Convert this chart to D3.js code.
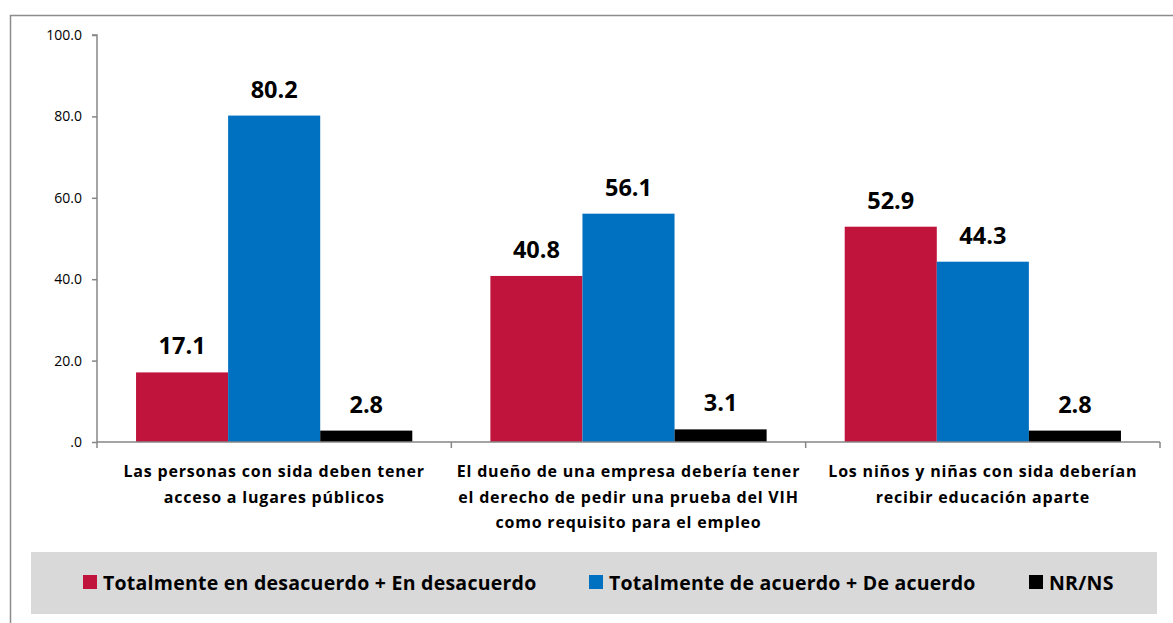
<!DOCTYPE html>
<html><head><meta charset="utf-8">
<script src="https://cdn.jsdelivr.net/npm/d3@7"></script>
<style>body{margin:0;background:#fff}svg{display:block}</style>
</head><body>
<script>
const categories = [
  ["Las personas con sida deben tener", "acceso a lugares públicos"],
  ["El dueño de una empresa debería tener", "el derecho de pedir una prueba del VIH", "como requisito para el empleo"],
  ["Los niños y niñas con sida deberían", "recibir educación aparte"]
];
const seriesNames = ["Totalmente en desacuerdo + En desacuerdo", "Totalmente de acuerdo + De acuerdo", "NR/NS"];
const desacuerdo = [17.1, 40.8, 52.9];
const acuerdo = [80.2, 56.1, 44.3];
const nrns = [2.8, 3.1, 2.8];
const yTicks = [0, 20, 40, 60, 80, 100];
const colors = ["#C0143C", "#0070C0", "#000000"];

const W = 1173, H = 623;
const svg = d3.select("body").append("svg").attr("width", W).attr("height", H);
const font = "'Open Sans', Lato, sans-serif";

// outer frame
svg.append("rect").attr("x", 10.5).attr("y", 15.5).attr("width", W).attr("height", H)
  .attr("fill", "none").attr("stroke", "#8c8c8c").attr("stroke-width", 1.5);

const pLeft = 97, pRight = 1160, pTop = 35, pBottom = 442;
const x0 = d3.scaleBand().domain(d3.range(categories.length)).range([pLeft, pRight]).paddingInner(0).paddingOuter(0);
const x1 = d3.scaleBand().domain(d3.range(3)).range([0, x0.bandwidth()]).paddingOuter(0.424).paddingInner(0);
const y = d3.scaleLinear().domain([0, 100]).range([pBottom, pTop]);

const series = [desacuerdo, acuerdo, nrns];

// bars
const g = svg.append("g");
series.forEach((vals, si) => {
  g.selectAll(null).data(vals).enter().append("rect")
    .attr("x", (d, i) => x0(i) + x1(si))
    .attr("y", d => y(d))
    .attr("width", x1.bandwidth())
    .attr("height", d => y(0) - y(d))
    .attr("fill", colors[si]);
  g.selectAll(null).data(vals).enter().append("text")
    .attr("x", (d, i) => x0(i) + x1(si) + x1.bandwidth() / 2)
    .attr("y", d => y(d) - 18)
    .attr("text-anchor", "middle")
    .attr("font-family", font).attr("font-weight", "bold").attr("font-size", 23.5)
    .attr("fill", "#000")
    .text(d => d.toFixed(1));
});

// y axis
const yAxis = d3.axisLeft(y).tickValues(yTicks).tickSize(5).tickPadding(10)
  .tickFormat(d => d === 0 ? ".0" : d.toFixed(1));
const ya = svg.append("g").attr("transform", `translate(${pLeft},0)`).call(yAxis);
ya.select(".domain").attr("stroke", "#868686").attr("stroke-width", 1.5).attr("d", `M-5,${pTop}H0V${pBottom}`);
ya.selectAll(".tick line").attr("stroke", "#868686").attr("stroke-width", 1.5);
ya.selectAll(".tick text").attr("font-family", "'Open Sans', sans-serif").attr("font-size", 14).attr("fill", "#000");

// x axis
const xa = svg.append("g").attr("transform", `translate(0,${pBottom})`);
xa.append("line").attr("x1", pLeft).attr("x2", pRight).attr("y1", 0).attr("y2", 0)
  .attr("stroke", "#868686").attr("stroke-width", 1.5);
const bounds = x0.domain().map(i => x0(i)).concat([pRight]);
xa.selectAll(null).data(bounds).enter().append("line")
  .attr("x1", d => d).attr("x2", d => d).attr("y1", 0).attr("y2", 6)
  .attr("stroke", "#868686").attr("stroke-width", 1.5);

categories.forEach((lines, i) => {
  const t = svg.append("text").attr("text-anchor", "middle")
    .attr("font-family", font).attr("font-weight", "bold").attr("font-size", 16)
    .attr("letter-spacing", 0.8).attr("fill", "#000");
  lines.forEach((ln, k) => {
    t.append("tspan").attr("x", x0(i) + x0.bandwidth() / 2).attr("y", 477 + k * 25.5).text(ln);
  });
});

// legend
svg.append("rect").attr("x", 31).attr("y", 552).attr("width", 1126).attr("height", 62).attr("fill", "#d9d9d9");
const legX = [83, 589, 1029];
seriesNames.forEach((name, i) => {
  svg.append("rect").attr("x", legX[i]).attr("y", 575).attr("width", 14).attr("height", 14).attr("fill", colors[i]);
  svg.append("text").attr("x", legX[i] + 20).attr("y", 589.5)
    .attr("font-family", font).attr("font-weight", "bold").attr("font-size", 19.5)
    .attr("letter-spacing", 0.25).attr("fill", "#000")
    .text(name);
});
</script>
</body></html>
